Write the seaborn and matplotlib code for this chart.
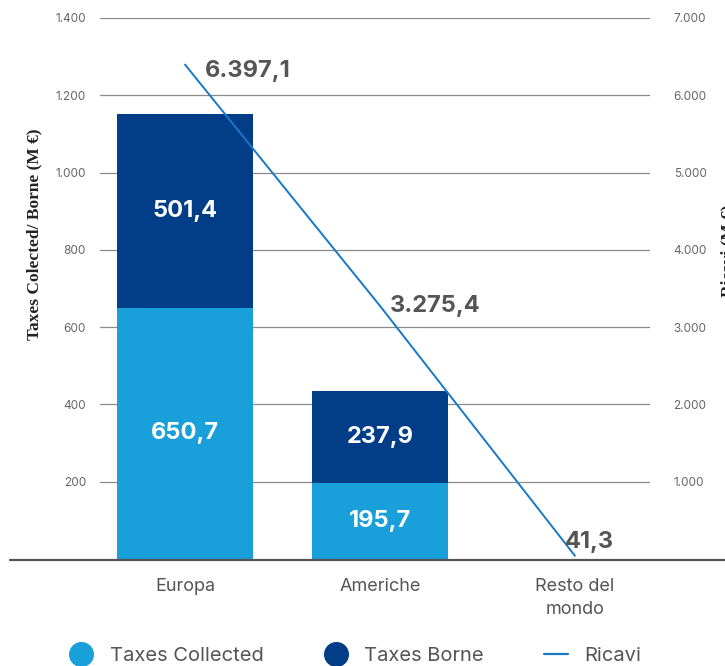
import matplotlib
matplotlib.use("Agg")
import matplotlib.pyplot as plt
import seaborn as sns
import pandas as pd
from matplotlib.lines import Line2D

categories = ["Europa", "Americhe", "Resto del\nmondo"]
taxes_collected = [650.7, 195.7, 0.0]
taxes_borne = [501.4, 237.9, 0.0]
ricavi = [6397.1, 3275.4, 41.3]
left_ticks = [200, 400, 600, 800, 1000, 1200, 1400]
right_ticks = [1000, 2000, 3000, 4000, 5000, 6000, 7000]

c_light = "#199FDA"
c_dark = "#023E87"
c_line = "#1878C6"
c_text = "#555555"

sns.set_style("white")
plt.rcParams["font.family"] = ["Inter", "DejaVu Sans"]

fig = plt.figure(figsize=(7.25, 6.66), dpi=100)
W, H = 725, 666
ax = fig.add_axes([100 / W, (H - 559) / H, 550 / W, 541 / H])

def fmt(v):
    s = f"{v:,.1f}"
    return s.replace(",", "X").replace(".", ",").replace("X", ".")

df = pd.DataFrame({
    "cat": categories,
    "total": [c + b for c, b in zip(taxes_collected, taxes_borne)],
    "collected": taxes_collected,
    "borne": taxes_borne,
})

sns.barplot(data=df, x="cat", y="total", color=c_dark, width=0.7,
            saturation=1, ax=ax, zorder=3, linewidth=0, edgecolor="none")
sns.barplot(data=df, x="cat", y="collected", color=c_light, width=0.7,
            saturation=1, ax=ax, zorder=4, linewidth=0, edgecolor="none")

for i, (c, b) in enumerate(zip(taxes_collected, taxes_borne)):
    if c > 0:
        ax.text(i, c / 2, fmt(c), ha="center", va="center", color="white",
                fontsize=17, fontweight="bold", zorder=6)
    if b > 0:
        ax.text(i, c + b / 2, fmt(b), ha="center", va="center", color="white",
                fontsize=17, fontweight="bold", zorder=6)

ax.set_ylim(0, 1400)
ax.set_xlim(-0.436, 2.385)
ax.set_yticks(left_ticks)
ax.set_yticklabels([fmt(t)[:-2] for t in left_ticks])
ax.yaxis.grid(True, color="#8a8a8a", linewidth=0.9)
ax.set_axisbelow(True)
ax.tick_params(axis="y", length=0, pad=10, labelsize=8.5, labelcolor="#666666")
ax.tick_params(axis="x", length=0, pad=14, labelsize=13, labelcolor=c_text)
for lbl in ax.get_xticklabels():
    lbl.set_linespacing(1.45)
for s in ax.spines.values():
    s.set_visible(False)
ax.set_xlabel("")
ax.set_ylabel("Taxes Colected/ Borne (M €)", family="Liberation Serif",
              fontweight="bold", fontsize=12.5, color="#222222")
ax.yaxis.set_label_coords(-0.104, 0.6)

ax2 = ax.twinx()
xpos = list(range(len(categories)))
sns.lineplot(x=xpos, y=ricavi, ax=ax2, color=c_line, linewidth=1.4, zorder=7)
ax2.set_ylim(0, 7000)
ax2.set_yticks(right_ticks)
ax2.set_yticklabels([fmt(t)[:-2] for t in right_ticks])
ax2.tick_params(axis="y", length=0, pad=17, labelsize=8.5, labelcolor="#666666")
for s in ax2.spines.values():
    s.set_visible(False)
ax2.set_ylabel("Ricavi (M €)", family="Liberation Serif", fontweight="bold",
               fontsize=12.5, color="#222222", rotation=90)
ax2.yaxis.set_label_coords(1.128, 0.57)
ax2.set_xlim(-0.436, 2.385)

offsets = [(20, -6), (10, 0), (-10, 14)]
for x, v, off in zip(xpos, ricavi, offsets):
    ax2.annotate(fmt(v), (x, v), xytext=off, textcoords="offset pixels",
                 ha="left", va="center", fontsize=17, fontweight="bold",
                 color=c_text, zorder=8)

fig.add_artist(Line2D([10 / W, 1.0], [(H - 560) / H] * 2,
                      color="#555555", linewidth=1.6, transform=fig.transFigure))

handles = [
    Line2D([], [], marker="o", linestyle="none", markersize=17,
           markerfacecolor=c_light, markeredgecolor=c_light),
    Line2D([], [], marker="o", linestyle="none", markersize=17,
           markerfacecolor=c_dark, markeredgecolor=c_dark),
    Line2D([], [], color=c_line, linewidth=1.6),
]
fig.legend(handles, ["Taxes Collected", "Taxes Borne", "Ricavi"], ncol=3,
           loc="center", bbox_to_anchor=(0.49, (H - 656) / H), frameon=False,
           fontsize=14.5, labelcolor=c_text, handlelength=1.2,
           columnspacing=3.0, handletextpad=0.8)

fig.savefig("out.png", dpi=100)
